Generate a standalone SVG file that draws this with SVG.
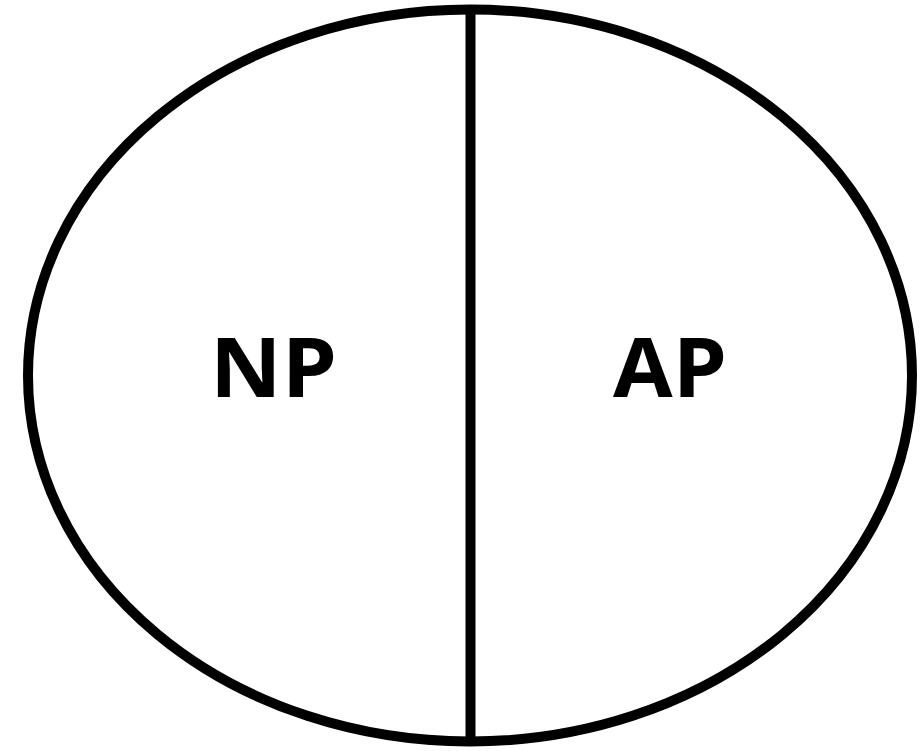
<svg xmlns="http://www.w3.org/2000/svg" width="920" height="751" viewBox="0 0 920 751">
<style>
.shape{fill:none;stroke:#000;stroke-width:10}
.lbl{font-family:"Open Sans","Liberation Sans",sans-serif;font-weight:bold;font-size:83px;fill:#000;text-anchor:middle}
</style>
<rect width="920" height="751" fill="#fff"/>
<g id="oval">
<ellipse class="shape" cx="470" cy="375.5" rx="442" ry="366"/>
</g>
<g id="connectors">
<line class="shape" x1="470.5" y1="10" x2="470.5" y2="741"/>
</g>
<g id="np">
<text class="lbl" x="273.5" y="397" textLength="127" lengthAdjust="spacingAndGlyphs">NP</text>
</g>
<g id="ap">
<text class="lbl" x="670" y="397" textLength="114" lengthAdjust="spacingAndGlyphs">AP</text>
</g>
</svg>
